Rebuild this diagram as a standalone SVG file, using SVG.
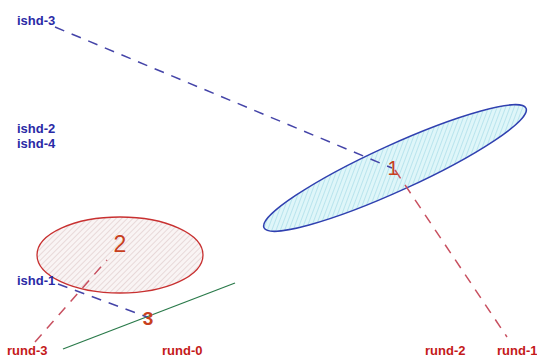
<svg xmlns="http://www.w3.org/2000/svg" width="537" height="358" viewBox="0 0 537 358">
<defs>
<pattern id="hatchBlue" patternUnits="userSpaceOnUse" width="4" height="4" patternTransform="rotate(45)">
<rect width="4" height="4" fill="#dff6f9"/>
<line x1="0" y1="0" x2="0" y2="4" stroke="#9fd9e6" stroke-width="1.2"/>
</pattern>
<pattern id="hatchRed" patternUnits="userSpaceOnUse" width="4" height="4" patternTransform="rotate(45)">
<rect width="4" height="4" fill="#f9f4f4"/>
<line x1="0" y1="0" x2="0" y2="4" stroke="#ddc8c8" stroke-width="1.2"/>
</pattern>
</defs>
<style>
.lbl{font-family:"Liberation Sans",Arial,sans-serif;font-size:13px;font-weight:bold}
.ishd{fill:#2a2aa6}
.rund{fill:#c41a1a}
.num{font-family:"Liberation Sans",Arial,sans-serif;fill:#c8401e}
.dblue{stroke:#4444a8;stroke-width:1.5;stroke-dasharray:10 8;fill:none}
.dred{stroke:#c85060;stroke-width:1.5;stroke-dasharray:10 8;fill:none}
</style>
<rect width="537" height="358" fill="#ffffff"/>
<g id="node-1">
<ellipse cx="395" cy="168" rx="144" ry="23" transform="rotate(-24.5 395 168)" fill="url(#hatchBlue)" stroke="#3040b0" stroke-width="1.5"/>
</g>
<g id="node-2">
<ellipse cx="120" cy="255" rx="83" ry="38" fill="url(#hatchRed)" stroke="#c83030" stroke-width="1.3"/>
</g>
<g id="node-3">
<line x1="63" y1="349" x2="235" y2="283" stroke="#2a7a4a" stroke-width="1.3"/>
</g>
<g id="connectors">
<line class="dblue" x1="55" y1="27" x2="392" y2="168"/>
<line class="dred" x1="395" y1="170" x2="507" y2="337"/>
<line class="dred" x1="35" y1="342" x2="107" y2="260"/>
<line class="dblue" x1="58" y1="284" x2="147" y2="317"/>
</g>
<g id="labels">
<text class="lbl ishd" x="17" y="25">ishd-3</text>
<text class="lbl ishd" x="17" y="133">ishd-2</text>
<text class="lbl ishd" x="17" y="148">ishd-4</text>
<text class="lbl ishd" x="17" y="285">ishd-1</text>
<text class="lbl rund" x="7" y="355">rund-3</text>
<text class="lbl rund" x="162" y="355">rund-0</text>
<text class="lbl rund" x="425" y="355">rund-2</text>
<text class="lbl rund" x="497" y="355">rund-1</text>
<text class="num" x="393" y="175" font-size="20" text-anchor="middle">1</text>
<text class="num" x="120" y="252" font-size="23" text-anchor="middle">2</text>
<text class="num" x="148" y="325" font-size="19" font-weight="bold" text-anchor="middle">3</text>
</g>
</svg>
